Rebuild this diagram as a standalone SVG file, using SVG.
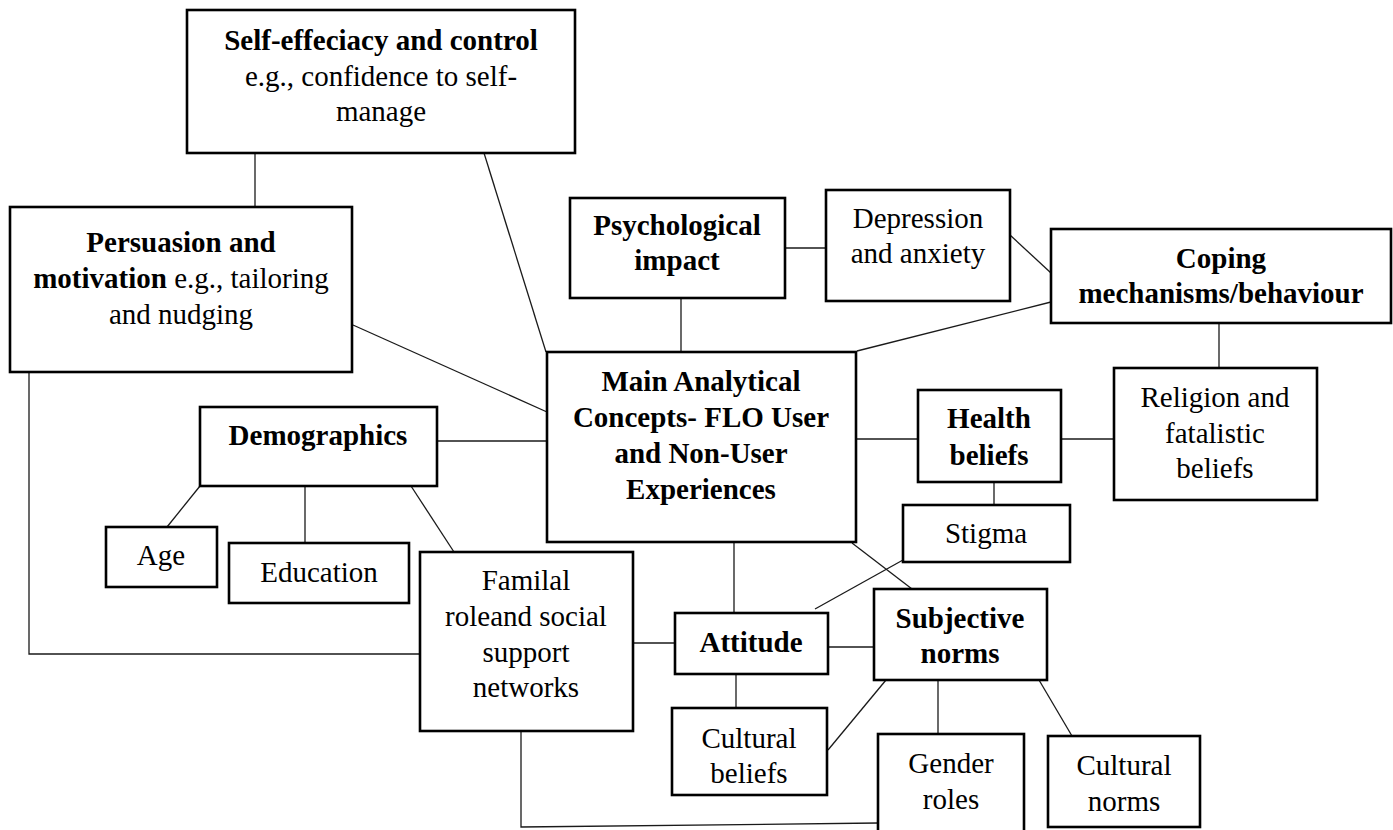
<svg xmlns="http://www.w3.org/2000/svg" width="1393" height="830" viewBox="0 0 1393 830">
  <style>
    .box { fill: #ffffff; stroke: #000000; stroke-width: 2.6; }
    .link { fill: none; stroke: #1a1a1a; stroke-width: 1.3; }
    text { font-size: 29px; fill: #000000; text-anchor: middle; }
    .b { font-weight: bold; }
  </style>
  <rect x="0" y="0" width="1393" height="830" fill="#ffffff"/>

  <!-- connectors -->
  <g id="connectors">
    <line class="link" x1="255" y1="153" x2="255" y2="207"/>
    <line class="link" x1="484" y1="153" x2="546" y2="352"/>
    <line class="link" x1="353" y1="325" x2="547" y2="412"/>
    <polyline class="link" points="29,372 29,654 420,654"/>
    <line class="link" x1="437" y1="441" x2="547" y2="441"/>
    <line class="link" x1="200" y1="486" x2="167" y2="527"/>
    <line class="link" x1="305" y1="486" x2="305" y2="543"/>
    <line class="link" x1="411" y1="486" x2="454" y2="552"/>
    <line class="link" x1="633" y1="643" x2="675" y2="643"/>
    <polyline class="link" points="521,731 521,827 878,823"/>
    <line class="link" x1="681" y1="298" x2="681" y2="352"/>
    <line class="link" x1="785" y1="248" x2="826" y2="248"/>
    <line class="link" x1="1010" y1="235" x2="1051" y2="273"/>
    <line class="link" x1="857" y1="351" x2="1051" y2="302"/>
    <line class="link" x1="856" y1="439" x2="918" y2="439"/>
    <line class="link" x1="1061" y1="439" x2="1114" y2="439"/>
    <line class="link" x1="1219" y1="323" x2="1219" y2="368"/>
    <line class="link" x1="994" y1="482" x2="994" y2="505"/>
    <line class="link" x1="734" y1="542" x2="734" y2="613"/>
    <line class="link" x1="852" y1="543" x2="912" y2="589"/>
    <line class="link" x1="903" y1="560" x2="815" y2="609"/>
    <line class="link" x1="828" y1="647" x2="874" y2="647"/>
    <line class="link" x1="736" y1="674" x2="736" y2="708"/>
    <line class="link" x1="886" y1="680" x2="828" y2="750"/>
    <line class="link" x1="938" y1="680" x2="938" y2="734"/>
    <line class="link" x1="1039" y1="680" x2="1072" y2="736"/>
  </g>

  <g font-family="'Liberation Serif', 'DejaVu Serif', serif">
  <g id="self-efficacy">
    <rect class="box" x="187" y="10" width="388" height="143"/>
    <text class="b" x="381" y="50">Self-effeciacy and control</text>
    <text x="381" y="86">e.g., confidence to self-</text>
    <text x="381" y="121">manage</text>
  </g>

  <g id="persuasion">
    <rect class="box" x="10" y="207" width="342" height="165"/>
    <text class="b" x="181" y="252">Persuasion and</text>
    <text x="181" y="288"><tspan class="b">motivation</tspan> e.g., tailoring</text>
    <text x="181" y="324">and nudging</text>
  </g>

  <g id="psychological">
    <rect class="box" x="570" y="198" width="215" height="100"/>
    <text class="b" x="677" y="235">Psychological</text>
    <text class="b" x="677" y="270">impact</text>
  </g>

  <g id="depression">
    <rect class="box" x="826" y="190" width="184" height="111"/>
    <text x="918" y="228">Depression</text>
    <text x="918" y="263">and anxiety</text>
  </g>

  <g id="coping">
    <rect class="box" x="1051" y="229" width="340" height="94"/>
    <text class="b" x="1221" y="268">Coping</text>
    <text class="b" x="1221" y="303">mechanisms/behaviour</text>
  </g>

  <g id="main-concepts">
    <rect class="box" x="547" y="352" width="309" height="190"/>
    <text class="b" x="701" y="391">Main Analytical</text>
    <text class="b" x="701" y="427">Concepts- FLO User</text>
    <text class="b" x="701" y="463">and Non-User</text>
    <text class="b" x="701" y="499">Experiences</text>
  </g>

  <g id="demographics">
    <rect class="box" x="200" y="407" width="237" height="79"/>
    <text class="b" x="318" y="445">Demographics</text>
  </g>

  <g id="health-beliefs">
    <rect class="box" x="918" y="390" width="143" height="92"/>
    <text class="b" x="989" y="428">Health</text>
    <text class="b" x="989" y="465">beliefs</text>
  </g>

  <g id="religion">
    <rect class="box" x="1114" y="368" width="203" height="132"/>
    <text x="1215" y="407">Religion and</text>
    <text x="1215" y="443">fatalistic</text>
    <text x="1215" y="478">beliefs</text>
  </g>

  <g id="age">
    <rect class="box" x="106" y="527" width="111" height="60"/>
    <text x="161" y="565">Age</text>
  </g>

  <g id="education">
    <rect class="box" x="229" y="543" width="180" height="60"/>
    <text x="319" y="582">Education</text>
  </g>

  <g id="stigma">
    <rect class="box" x="903" y="505" width="167" height="57"/>
    <text x="986" y="543">Stigma</text>
  </g>

  <g id="familial-role">
    <rect class="box" x="420" y="552" width="213" height="179"/>
    <text x="526" y="590">Familal</text>
    <text x="526" y="626">roleand social</text>
    <text x="526" y="662">support</text>
    <text x="526" y="697">networks</text>
  </g>

  <g id="attitude">
    <rect class="box" x="675" y="613" width="153" height="61"/>
    <text class="b" x="751" y="652">Attitude</text>
  </g>

  <g id="subjective-norms">
    <rect class="box" x="874" y="589" width="173" height="91"/>
    <text class="b" x="960" y="628">Subjective</text>
    <text class="b" x="960" y="663">norms</text>
  </g>

  <g id="cultural-beliefs">
    <rect class="box" x="672" y="708" width="155" height="87"/>
    <text x="749" y="748">Cultural</text>
    <text x="749" y="783">beliefs</text>
  </g>

  <g id="gender-roles">
    <rect class="box" x="878" y="734" width="146" height="102"/>
    <text x="951" y="773">Gender</text>
    <text x="951" y="809">roles</text>
  </g>

  <g id="cultural-norms">
    <rect class="box" x="1048" y="736" width="152" height="91"/>
    <text x="1124" y="775">Cultural</text>
    <text x="1124" y="811">norms</text>
  </g>
  </g>
</svg>
